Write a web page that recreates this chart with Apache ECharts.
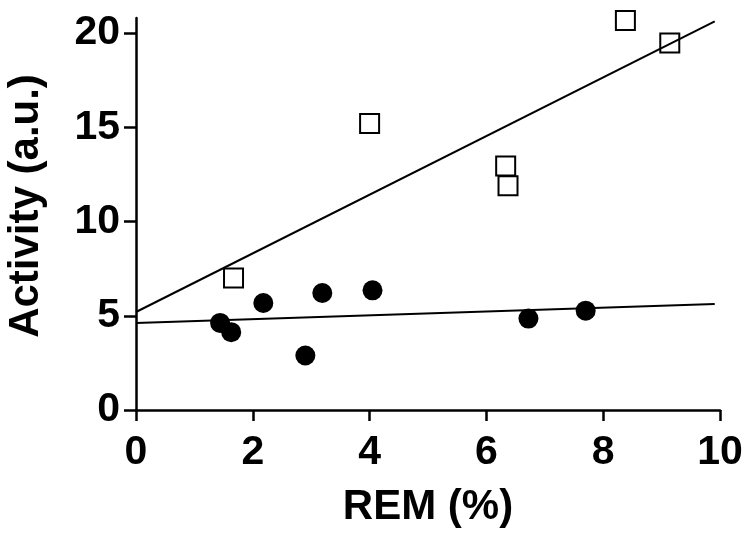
<!DOCTYPE html>
<html>
<head>
<meta charset="utf-8">
<script src="https://cdn.jsdelivr.net/npm/echarts@6/dist/echarts.min.js"></script>
<style>
  html, body { margin: 0; padding: 0; background: #fff; }
  #chart { width: 754px; height: 543px; }
</style>
</head>
<body>
<div id="chart"></div>
<script>
  // open squares (upper group)
  var squareX = [1.67, 4.0, 6.33, 6.37, 8.38, 9.14];
  var squareY = [7.0, 15.2, 12.95, 11.9, 20.67, 19.47];
  // filled circles (lower group)
  var circleX = [1.44, 1.63, 2.18, 2.90, 3.19, 4.05, 6.72, 7.70];
  var circleY = [4.62, 4.13, 5.68, 2.89, 6.21, 6.35, 4.85, 5.27];
  // regression lines, two end points each
  var fitUpper = [[0, 5.2], [9.91, 20.62]];
  var fitLower = [[0, 4.62], [9.91, 5.63]];
  var yTicks = [0, 5, 10, 15, 20];
  var xTicks = [0, 2, 4, 6, 8, 10];

  var font = 'Liberation Sans, Arial, sans-serif';

  function pairs(xs, ys) {
    var out = [];
    for (var i = 0; i < xs.length; i++) out.push([xs[i], ys[i]]);
    return out;
  }

  var myChart = echarts.init(document.getElementById('chart'));
  var option = {
    backgroundColor: '#fff',
    animation: false,
    grid: { left: 136, right: 34, top: 18, bottom: 133, containLabel: false, outerBoundsMode: 'none' },   // plot area
    xAxis: {
      type: 'value',
      min: 0,
      max: 10,
      interval: 2,
      name: 'REM (%)',
      nameLocation: 'middle',
      nameGap: 76,
      nameTextStyle: { fontFamily: font, fontWeight: 'bold', fontSize: 42, color: '#000' },
      axisLine: { onZero: false, lineStyle: { color: '#000', width: 2.5 } },
      axisTick: { show: true, length: 11, customValues: xTicks, lineStyle: { color: '#000', width: 2.5 } },
      axisLabel: { customValues: xTicks, margin: 22, fontFamily: font, fontWeight: 'bold', fontSize: 41, color: '#000' },
      splitLine: { show: false }
    },
    yAxis: {
      type: 'value',
      min: 0,
      max: 20.8,
      interval: 5,
      name: 'Activity (a.u.)',
      nameLocation: 'middle',
      nameGap: 89,
      nameTextStyle: { fontFamily: font, fontWeight: 'bold', fontSize: 42, color: '#000', padding: [0, 0, 0, 16] },
      axisLine: { show: true, onZero: false, lineStyle: { color: '#000', width: 2.5 } },
      axisTick: { show: true, length: 12, customValues: yTicks, lineStyle: { color: '#000', width: 2.5 } },
      axisLabel: { customValues: yTicks, margin: 16, fontFamily: font, fontWeight: 'bold', fontSize: 41, color: '#000' },
      splitLine: { show: false }
    },
    series: [
      {
        type: 'line',
        data: fitUpper,
        symbol: 'none',
        lineStyle: { color: '#000', width: 2 },
        z: 2
      },
      {
        type: 'line',
        data: fitLower,
        symbol: 'none',
        lineStyle: { color: '#000', width: 2 },
        z: 2
      },
      {
        type: 'scatter',
        data: pairs(squareX, squareY),
        symbol: 'rect',
        symbolSize: 19,
        itemStyle: { color: 'rgba(255,255,255,0)', borderColor: '#000', borderWidth: 2, opacity: 1 },
        z: 3
      },
      {
        type: 'scatter',
        data: pairs(circleX, circleY),
        symbol: 'circle',
        symbolSize: 20,
        itemStyle: { color: '#000', opacity: 1 },
        z: 3
      }
    ]
  };
  myChart.setOption(option);
</script>
</body>
</html>
